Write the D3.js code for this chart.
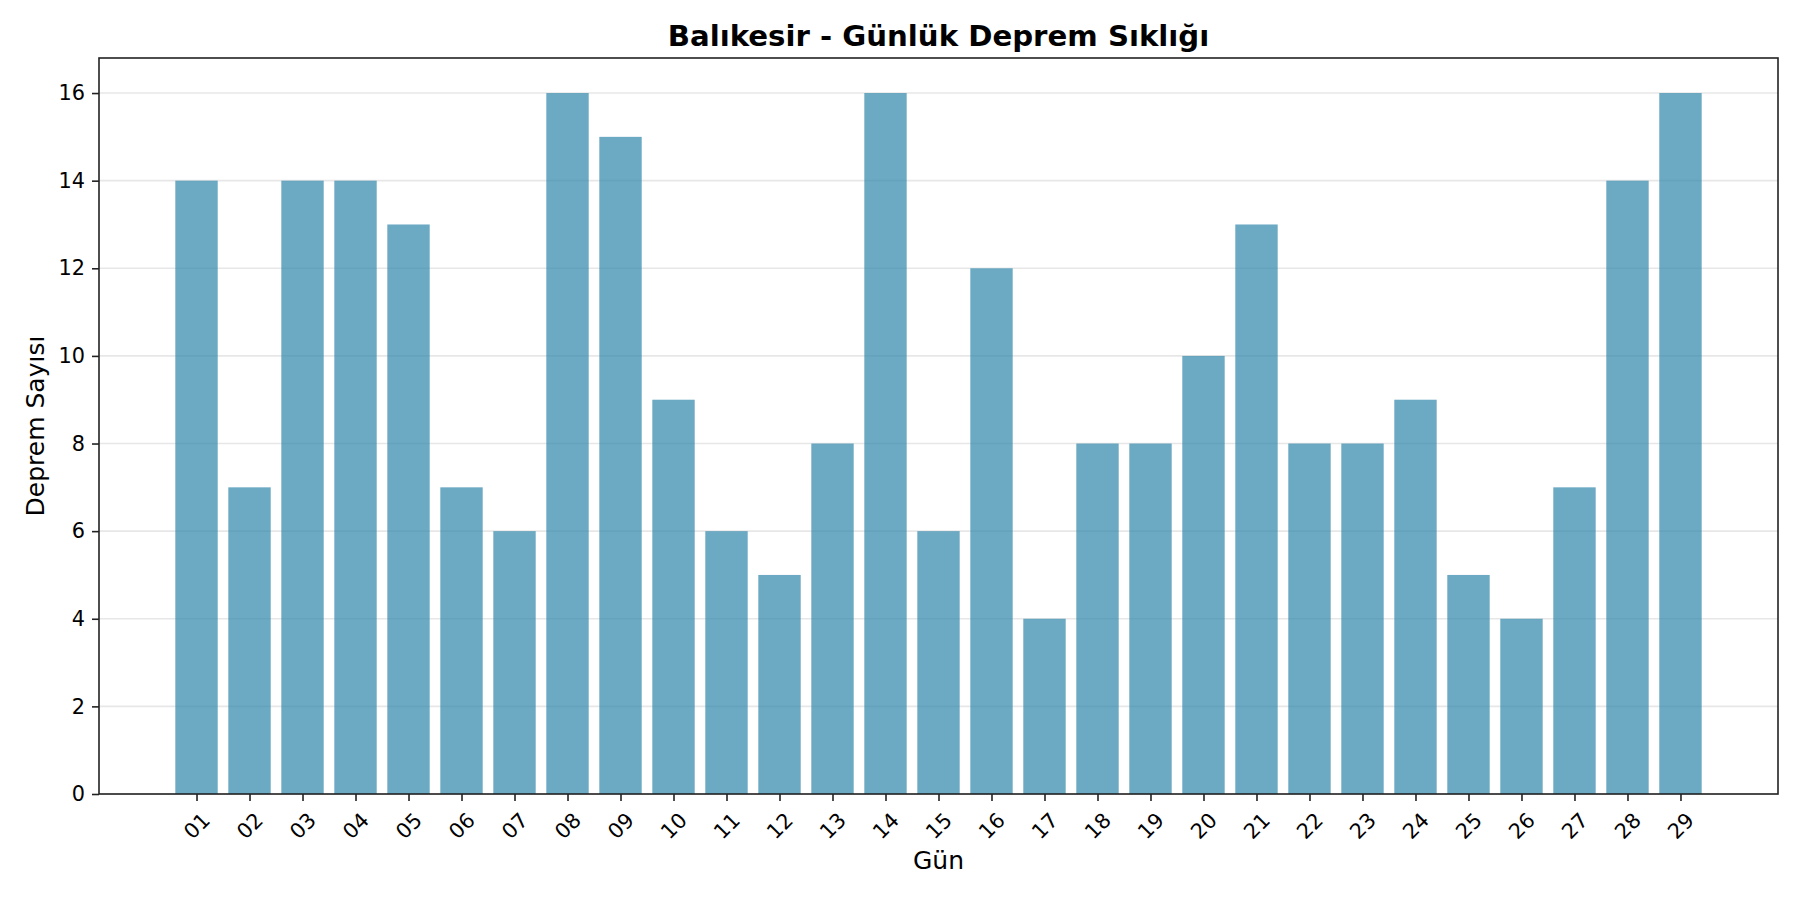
<!DOCTYPE html>
<html>
<head>
<meta charset="utf-8">
<script src="https://cdn.jsdelivr.net/npm/d3@7"></script>
<style>
  body { margin: 0; background: #fff; }
  svg text { font-family: "DejaVu Sans", sans-serif; }
</style>
</head>
<body>
<div id="chart"></div>
<script>
var days = ["01","02","03","04","05","06","07","08","09","10","11","12","13","14","15",
            "16","17","18","19","20","21","22","23","24","25","26","27","28","29"];
var counts = [14,7,14,14,13,7,6,16,15,9,6,5,8,16,6,12,4,8,8,10,13,8,8,9,5,4,7,14,16];
var yTicks = [0,2,4,6,8,10,12,14,16];

var w = 1800, h = 900;
// plot box (window.top is read-only, so no bare "top" here)
var pLeft = 99, pRight = 1778, pTop = 58, pBottom = 794;

var svg = d3.select("#chart")
  .append("svg")
  .attr("width", w)
  .attr("height", h);

// matplotlib style: bar width 0.8, 5% margins on each side
var n = days.length;
var span = (n - 1) + 0.8;
var x = d3.scaleLinear()
  .domain([-0.4 - span * 0.05, n - 1 + 0.4 + span * 0.05])
  .range([pLeft, pRight]);

var ymax = d3.max(counts) * 1.05;
var y = d3.scaleLinear()
  .domain([0, ymax])
  .range([pBottom, pTop]);

// grid first, bars are translucent so it shows through
svg.append("g")
  .selectAll("line")
  .data(yTicks)
  .enter()
  .append("line")
  .attr("x1", pLeft)
  .attr("x2", pRight)
  .attr("y1", function(d){ return y(d); })
  .attr("y2", function(d){ return y(d); })
  .attr("stroke", "#b0b0b0")
  .attr("stroke-opacity", 0.3)
  .attr("stroke-width", 1.6);

var bw = x(0.8) - x(0);
svg.append("g")
  .selectAll("rect")
  .data(counts)
  .enter()
  .append("rect")
  .attr("x", function(d, i){ return x(i) - bw / 2; })
  .attr("y", function(d){ return y(d); })
  .attr("width", bw)
  .attr("height", function(d){ return pBottom - y(d); })
  .attr("fill", "#2E86AB")
  .attr("fill-opacity", 0.7);

// y axis
var yAxis = svg.append("g")
  .attr("transform", "translate(" + pLeft + ",0)")
  .call(d3.axisLeft(y).tickValues(yTicks).tickSize(7).tickPadding(7));
yAxis.select(".domain").remove();
yAxis.selectAll("line").attr("stroke", "#222").attr("stroke-width", 1.6);
yAxis.selectAll("text").attr("font-size", "20.8px").attr("fill", "#000")
  .attr("font-family", "DejaVu Sans");

// x axis, labels turned 45 degrees around their centre
var xAxis = svg.append("g")
  .attr("transform", "translate(0," + pBottom + ")")
  .call(d3.axisBottom(x).tickValues(d3.range(n)).tickFormat(function(i){ return days[i]; }).tickSize(7));
xAxis.select(".domain").remove();
xAxis.selectAll("line").attr("stroke", "#222").attr("stroke-width", 1.6);
xAxis.selectAll("text")
  .attr("font-size", "20.8px")
  .attr("fill", "#000")
  .attr("font-family", "DejaVu Sans")
  .attr("y", 0)
  .attr("dy", null)
  .attr("text-anchor", "middle")
  .attr("dominant-baseline", "central")
  .attr("transform", "translate(0,32) rotate(-45)");

// frame
svg.append("rect")
  .attr("x", pLeft)
  .attr("y", pTop)
  .attr("width", pRight - pLeft)
  .attr("height", pBottom - pTop)
  .attr("fill", "none")
  .attr("stroke", "#222")
  .attr("stroke-width", 1.6);

svg.append("text")
  .attr("x", (pLeft + pRight) / 2)
  .attr("y", 46)
  .attr("text-anchor", "middle")
  .attr("font-size", "29.2px")
  .attr("font-weight", "bold")
  .text("Balıkesir - Günlük Deprem Sıklığı");

svg.append("text")
  .attr("x", (pLeft + pRight) / 2)
  .attr("y", 869)
  .attr("text-anchor", "middle")
  .attr("font-size", "25px")
  .text("Gün");

svg.append("text")
  .attr("transform", "translate(44," + (pTop + pBottom) / 2 + ") rotate(-90)")
  .attr("text-anchor", "middle")
  .attr("font-size", "25px")
  .text("Deprem Sayısı");
</script>
</body>
</html>
